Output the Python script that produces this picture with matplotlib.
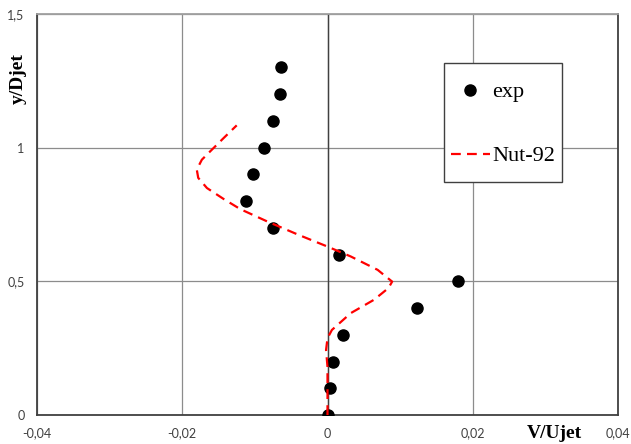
import matplotlib
matplotlib.use("Agg")
import matplotlib.pyplot as plt
from matplotlib.ticker import FuncFormatter
from matplotlib.legend_handler import HandlerLine2D

# experimental points
exp_v = [0.0, 0.0004, 0.0007, 0.0022, 0.0123, 0.018, 0.0016, -0.0075,
         -0.0112, -0.0102, -0.0087, -0.0075, -0.0066, -0.0064]
exp_y = [0.0, 0.1, 0.2, 0.3, 0.4, 0.5, 0.6, 0.7,
         0.8, 0.9, 1.0, 1.1, 1.2, 1.3]

# Nut-92 model curve
nut_v = [0.0, 0.0, 0.0, -0.0002, 0.0, 0.0006, 0.0032, 0.0064, 0.0084, 0.0089,
         0.0069, 0.0032, 0.0, -0.0040, -0.0083, -0.012, -0.0143, -0.0166,
         -0.0178, -0.018, -0.0173, -0.0159, -0.0143, -0.0125]
nut_y = [0.0, 0.1, 0.18, 0.243, 0.287, 0.318, 0.381, 0.431, 0.475, 0.499,
         0.543, 0.593, 0.630, 0.674, 0.724, 0.770, 0.808, 0.849,
         0.887, 0.918, 0.955, 0.993, 1.036, 1.0835]

x_ticks = [-0.04, -0.02, 0.0, 0.02, 0.04]
y_ticks = [0.0, 0.5, 1.0, 1.5]


def comma(v, pos):
    s = f"{v:g}"
    if s in ("-0", "0.0"):
        s = "0"
    return s.replace(".", ",")


class LowerHandler(HandlerLine2D):
    # pousse le symbole un peu vers le bas pour l'aligner sur le texte
    def create_artists(self, legend, orig_handle, xdescent, ydescent,
                       width, height, fontsize, trans):
        return super().create_artists(legend, orig_handle, xdescent,
                                      ydescent + 10, width, height,
                                      fontsize, trans)


fig = plt.figure(figsize=(6.31, 4.44), dpi=100)
ax = fig.add_axes([37 / 631, 1 - 415 / 444, 581 / 631, 401 / 444])

ax.set_xlim(-0.04, 0.04)
ax.set_ylim(0, 1.5)
ax.set_xticks(x_ticks)
ax.set_yticks(y_ticks)
ax.xaxis.set_major_formatter(FuncFormatter(comma))
ax.yaxis.set_major_formatter(FuncFormatter(comma))

# grid
ax.grid(True, color="#8c8c8c", linewidth=0.9)
ax.set_axisbelow(True)
ax.axvline(0, color="#404040", linewidth=1.0, zorder=1)

for side in ("left", "bottom", "right"):
    ax.spines[side].set_color("#404040")
    ax.spines[side].set_linewidth(1.3)
ax.spines["top"].set_color("#a0a0a0")
ax.spines["top"].set_linewidth(1.3)

ax.tick_params(length=0, pad=9, labelsize=9, labelcolor="#404040")
for lab in ax.get_xticklabels() + ax.get_yticklabels():
    lab.set_family("Lato")

pts, = ax.plot(exp_v, exp_y, "o", color="black", markersize=8, label="exp", zorder=3)
crv, = ax.plot(nut_v, nut_y, color="red", linewidth=1.6, dashes=(4.4, 2.8),
               label="Nut-92", zorder=4)

ax.set_xlabel("V/Ujet", family="Liberation Serif", fontweight="bold", fontsize=14)
ax.xaxis.set_label_coords(0.891, -0.045)
ax.xaxis.label.set_va("center")
ax.set_ylabel("y/Djet", family="Liberation Serif", fontweight="bold", fontsize=14)
ax.yaxis.set_label_coords(-0.033, 0.84)
ax.yaxis.label.set_va("center")

leg = ax.legend(handler_map={pts: LowerHandler(), crv: LowerHandler()},
                loc="upper left", bbox_to_anchor=((444 - 37) / 581, (415 - 63) / 401),
                prop={"family": "Liberation Serif", "size": 16},
                frameon=True, fancybox=False, framealpha=1,
                edgecolor="#404040", labelspacing=1.0, handlelength=1.75,
                handleheight=2.5, handletextpad=0.12, borderpad=0.3,
                borderaxespad=0)
leg.get_frame().set_linewidth(1.0)

fig.savefig("out.png", dpi=100)
